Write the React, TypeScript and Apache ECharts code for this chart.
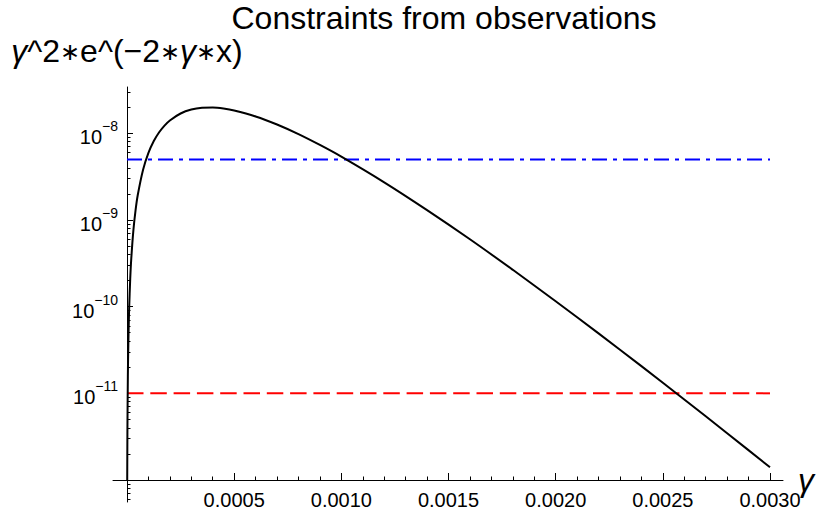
import React, { useEffect, useRef } from "react";
import * as echarts from "echarts";

// γ values (x axis) and curve values
const gammaValues = [
  0.000001, 0.000002, 0.000004, 0.000005, 0.0000075, 0.00001, 0.000015, 0.00002,
  0.00003, 0.00004, 0.00005, 0.000075, 0.0001, 0.000125, 0.00015, 0.000175,
  0.0002, 0.00025, 0.0003, 0.00035, 0.0004, 0.00045, 0.0005, 0.0006, 0.0007,
  0.0008, 0.0009, 0.001, 0.0012, 0.0014, 0.0016, 0.0018, 0.002, 0.0022, 0.0024,
  0.0026, 0.0028, 0.003,
];
const curveValues = [
  9.95e-13, 3.96e-12, 1.567e-11, 2.44e-11, 5.41e-11, 9.49e-11, 2.08e-10, 3.6e-10,
  7.69e-10, 1.298e-9, 1.93e-9, 3.8e-9, 5.93e-9, 8.13e-9, 1.027e-8, 1.227e-8,
  1.407e-8, 1.692e-8, 1.877e-8, 1.967e-8, 1.978e-8, 1.928e-8, 1.833e-8, 1.565e-8,
  1.263e-8, 9.79e-9, 7.34e-9, 5.38e-9, 2.72e-9, 1.3e-9, 5.99e-10, 2.66e-10,
  1.156e-10, 4.92e-11, 2.06e-11, 8.5e-12, 3.47e-12, 1.4e-12,
];

// horizontal constraint levels
const constraintRange = [0, 0.003];
const blueLevel = 5e-9;
const redLevel = 1e-11;

// axis ticks
const xTickInterval = 0.0005;
const yLabelExponents = [-11, -10, -9, -8];
const yMajorExponents = [-12, -11, -10, -9, -8];
const yMin = 1e-12;
const yMax = 3.42e-8;
const yStubMin = 5.6e-13;

const FONT = "'Liberation Sans', Arial, sans-serif";

export default function App() {
  const ref = useRef<HTMLDivElement>(null);

  useEffect(() => {
    if (!ref.current) return;
    const chart = echarts.init(ref.current, null, { renderer: "svg" });

    const majorTicks = yMajorExponents.map((e) => Math.pow(10, e));
    const labelTicks = yLabelExponents.map((e) => Math.pow(10, e));
    const minorTicks: number[] = [];
    for (const e of yMajorExponents) {
      for (let m = 2; m <= 9; m++) {
        const v = m * Math.pow(10, e);
        if (v <= yMax) minorTicks.push(v);
      }
    }
    const stubTicks: number[] = [];
    for (let m = 6; m <= 9; m++) stubTicks.push(m * 1e-13);

    const curve = gammaValues.map((g, i) => [g, curveValues[i]]);
    const blue = constraintRange.map((g) => [g, blueLevel]);
    const red = constraintRange.map((g) => [g, redLevel]);

    const G = { left: 127, top: 87, width: 643, height: 393 };

    chart.setOption({
      animation: false,
      backgroundColor: "#ffffff",
      textStyle: { fontFamily: FONT },
      title: {
        text: "Constraints from observations",
        left: 444,
        textAlign: "center",
        top: 2,
        padding: 0,
        textStyle: { fontSize: 32, fontWeight: "normal", color: "#000", fontFamily: FONT },
      },
      grid: [
        { ...G, containLabel: false },
        { left: 113, top: 87, width: 670, height: 393, containLabel: false },
        { left: 127, top: 480, width: 643, height: 22, containLabel: false },
      ],
      xAxis: [
        {
          type: "value",
          gridIndex: 0,
          min: 0,
          max: 0.003,
          interval: xTickInterval,
          axisLine: { show: false },
          axisTick: { show: true, inside: true, length: 7, lineStyle: { color: "#000", width: 1 } },
          minorTick: { show: true, splitNumber: 5, length: 3.5, lineStyle: { color: "#000", width: 1 } },
          splitLine: { show: false },
          axisLabel: {
            margin: 10,
            fontSize: 20,
            color: "#000",
            fontFamily: FONT,
            formatter: (v: number) => (v === 0 ? "" : v.toFixed(4)),
          },
        },
        {
          type: "value",
          gridIndex: 1,
          min: 0,
          max: 1,
          axisLine: { show: true, lineStyle: { color: "#000", width: 1 } },
          axisTick: { show: false },
          axisLabel: { show: false },
          splitLine: { show: false },
          name: "γ",
          nameLocation: "end",
          nameGap: 15,
          nameTextStyle: { fontSize: 32, fontStyle: "italic", color: "#000", fontFamily: FONT },
        },
        { type: "value", gridIndex: 2, min: 0, max: 1, show: false },
      ],
      yAxis: [
        {
          type: "log",
          gridIndex: 0,
          position: "left",
          offset: 0,
          min: yMin,
          max: yMax,
          axisLine: { show: true, lineStyle: { color: "#000", width: 1 } },
          axisTick: {
            show: true,
            inside: true,
            length: 6,
            customValues: majorTicks,
            lineStyle: { color: "#000", width: 1 },
          },
          splitLine: { show: false },
          axisLabel: {
            margin: 9,
            customValues: labelTicks,
            formatter: (v: number) => {
              const e = Math.round(Math.log10(v));
              return `{b|10}{s|−${-e}}`;
            },
            rich: {
              b: { fontSize: 20, lineHeight: 28, color: "#000", fontFamily: FONT, verticalAlign: "bottom" },
              s: { fontSize: 14, lineHeight: 14, color: "#000", fontFamily: FONT, verticalAlign: "top" },
            },
          },
          name: "{g|γ}^2{a|∗}e^(−2{a|∗}{g|γ}{a|∗}x)",
          nameLocation: "end",
          nameGap: 20,
          nameTextStyle: {
            fontSize: 32,
            color: "#000",
            fontFamily: FONT,
            align: "center",
            rich: {
              g: { fontSize: 32, fontStyle: "italic", color: "#000", fontFamily: FONT },
              a: { fontSize: 24, color: "#000", fontFamily: FONT },
            },
          },
        },
        {
          type: "log",
          gridIndex: 0,
          position: "left",
          offset: 0,
          min: yMin,
          max: yMax,
          axisLine: { show: false },
          axisTick: {
            show: true,
            inside: true,
            length: 3.5,
            customValues: minorTicks,
            lineStyle: { color: "#000", width: 1 },
          },
          axisLabel: { show: false },
          splitLine: { show: false },
        },
        { type: "value", gridIndex: 1, show: false },
        {
          type: "log",
          gridIndex: 2,
          position: "left",
          min: yStubMin,
          max: yMin,
          axisLine: { show: true, lineStyle: { color: "#000", width: 1 } },
          axisTick: {
            show: true,
            inside: true,
            length: 3.5,
            customValues: stubTicks,
            lineStyle: { color: "#000", width: 1 },
          },
          axisLabel: { show: false },
          splitLine: { show: false },
        },
      ],
      series: [
        {
          type: "line",
          name: "blue",
          xAxisIndex: 0,
          yAxisIndex: 0,
          data: blue,
          showSymbol: false,
          lineStyle: { color: "#0000ff", width: 2, type: [15, 6, 4, 6] },
          z: 2,
        },
        {
          type: "line",
          name: "red",
          xAxisIndex: 0,
          yAxisIndex: 0,
          data: red,
          showSymbol: false,
          lineStyle: { color: "#ff0000", width: 2, type: [16.5, 6.8] },
          z: 2,
        },
        {
          type: "line",
          name: "curve",
          xAxisIndex: 0,
          yAxisIndex: 0,
          data: curve,
          showSymbol: false,
          smooth: 0.25,
          lineStyle: { color: "#000", width: 2 },
          z: 3,
        },
      ],
    });

    return () => chart.dispose();
  }, []);

  return (
    <div
      ref={ref}
      style={{ position: "fixed", left: 0, top: 0, width: 817, height: 511, background: "#fff" }}
    />
  );
}
